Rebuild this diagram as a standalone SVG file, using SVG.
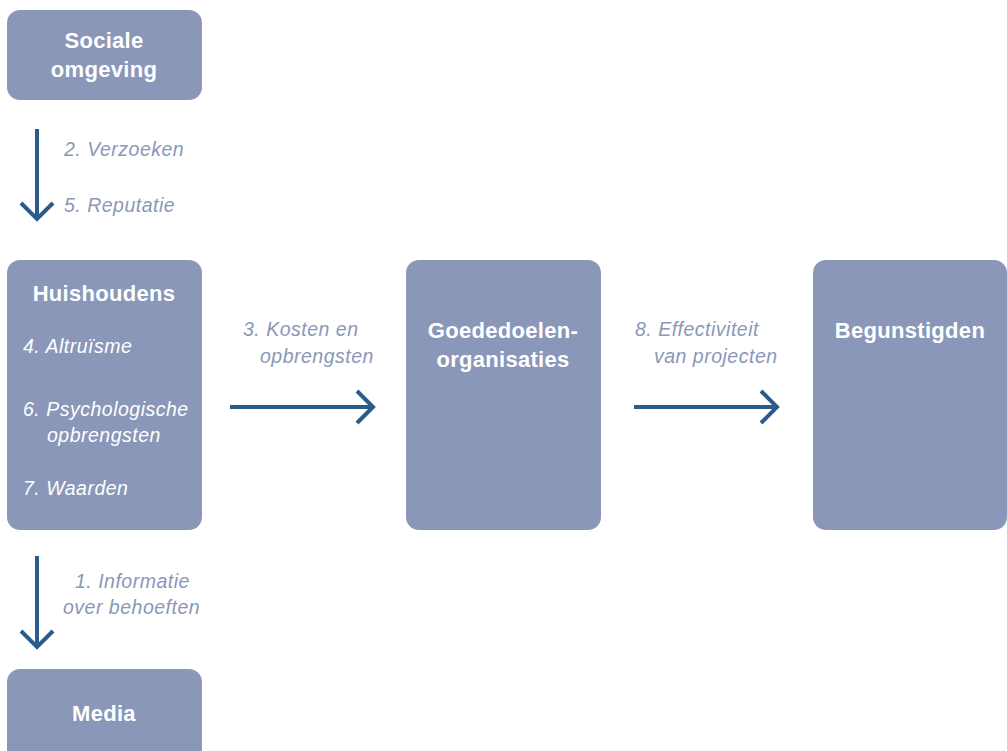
<svg xmlns="http://www.w3.org/2000/svg" width="1007" height="751" viewBox="0 0 1007 751">
<style>
.box{fill:#8A97B9}
.t{font-family:"Liberation Sans",Arial,sans-serif;font-weight:bold;font-size:22px;letter-spacing:0.3px;fill:#ffffff;text-anchor:middle}
.i{font-family:"Liberation Sans",Arial,sans-serif;font-style:italic;font-size:19.5px;letter-spacing:0.5px}
.w{fill:#ffffff}
.l{fill:#8A97B9}
.a{fill:none;stroke:#2B5A8C;stroke-width:4}
</style>
<rect width="1007" height="751" fill="#ffffff"/>
<g id="sociale-omgeving">
<rect class="box" x="7" y="10" width="195" height="90" rx="13"/>
<text class="t" x="104" y="48">Sociale</text>
<text class="t" x="104" y="77">omgeving</text>
</g>
<g id="huishoudens">
<rect class="box" x="7" y="260" width="195" height="270" rx="13"/>
<text class="t" x="104" y="301">Huishoudens</text>
<text class="i w" x="23" y="353">4. Altruïsme</text>
<text class="i w" x="23" y="416">6. Psychologische</text>
<text class="i w" x="47" y="442">opbrengsten</text>
<text class="i w" x="23" y="495">7. Waarden</text>
</g>
<g id="goededoelen">
<rect class="box" x="406" y="260" width="195" height="270" rx="13"/>
<text class="t" x="503" y="338">Goededoelen-</text>
<text class="t" x="503" y="367">organisaties</text>
</g>
<g id="begunstigden">
<rect class="box" x="813" y="260" width="194" height="270" rx="13"/>
<text class="t" x="910" y="338">Begunstigden</text>
</g>
<g id="media">
<rect class="box" x="7" y="669" width="195" height="100" rx="13"/>
<text class="t" x="104" y="721">Media</text>
</g>
<g id="connectors">
<path class="a" d="M37 129V219M21 203L37 219L53 203"/>
<path class="a" d="M230 407H373M357 391L373 407L357 423"/>
<path class="a" d="M634 407H777M761 391L777 407L761 423"/>
<path class="a" d="M37 556V647M21 631L37 647L53 631"/>
<text class="i l" x="64" y="156">2. Verzoeken</text>
<text class="i l" x="64" y="212">5. Reputatie</text>
<text class="i l" x="243" y="336">3. Kosten en</text>
<text class="i l" x="260" y="363">opbrengsten</text>
<text class="i l" x="635" y="336">8. Effectiviteit</text>
<text class="i l" x="654" y="363">van projecten</text>
<text class="i l" x="75" y="588">1. Informatie</text>
<text class="i l" x="63" y="614">over behoeften</text>
</g>
</svg>
